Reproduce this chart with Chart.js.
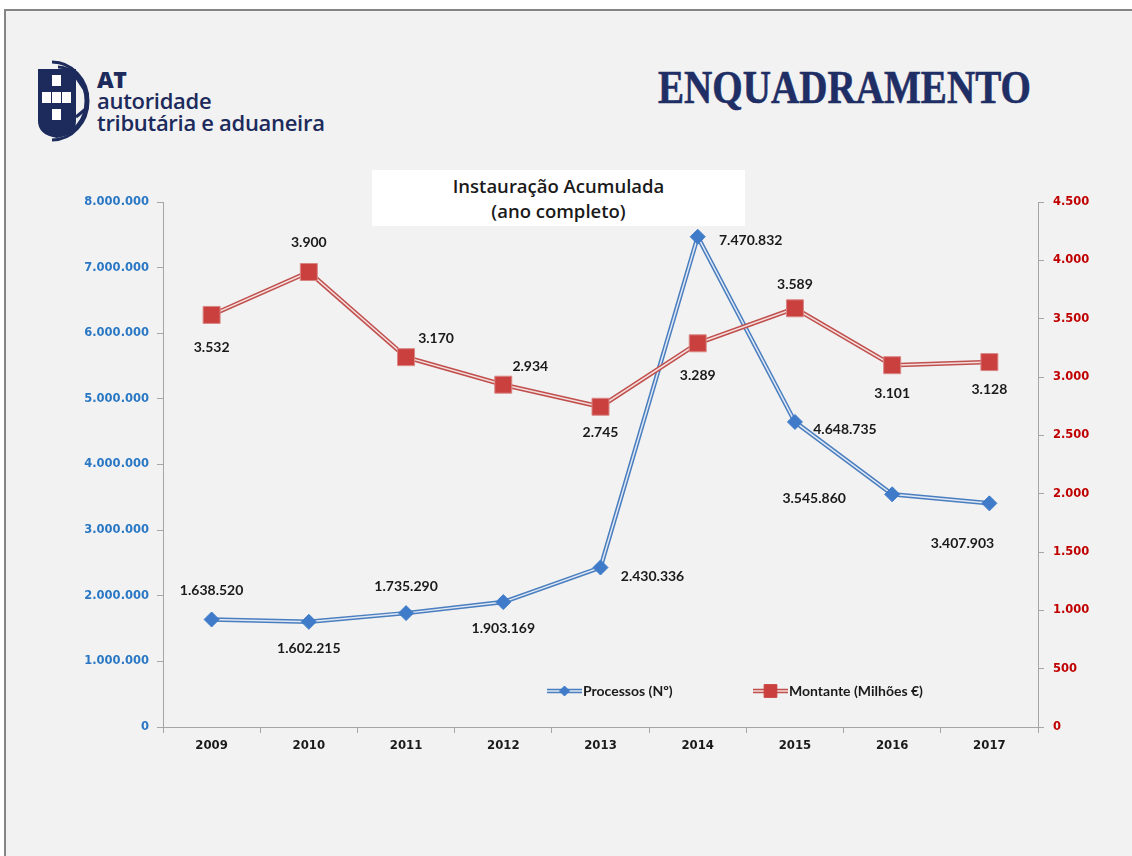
<!DOCTYPE html>
<html>
<head>
<meta charset="utf-8">
<script src="https://cdn.jsdelivr.net/npm/chart.js@4.4.1/dist/chart.umd.min.js"></script>
<style>
html,body{margin:0;padding:0;background:#fff;width:1132px;height:856px;overflow:hidden;}
#slide{position:absolute;left:4px;top:9px;width:1150px;height:870px;background:#f2f2f2;border-left:2px solid #858585;border-top:2px solid #858585;}
#logo{position:absolute;left:30px;top:55px;width:72px;height:92px;}
.lt{position:absolute;left:97px;color:#1c2a5c;font-family:"Open Sans",sans-serif;white-space:nowrap;line-height:1;}
#at{top:68px;font-size:23px;font-weight:800;letter-spacing:-0.5px;}
#aut{top:89px;font-size:22px;font-weight:600;letter-spacing:-0.3px;}
#trib{top:111px;font-size:22px;font-weight:600;letter-spacing:-0.3px;}
#bigtitle{position:absolute;left:658px;top:65px;font-family:"Liberation Serif",serif;font-weight:bold;font-size:46px;color:#1f2f66;transform:scaleX(0.85);transform-origin:left top;white-space:nowrap;line-height:1;-webkit-text-stroke:0.6px #1f2f66;}
#tbox{position:absolute;left:372px;top:170px;width:373px;height:56px;background:#fff;}
#tbox div{position:absolute;left:0;width:100%;text-align:center;font-family:"Open Sans",sans-serif;font-weight:600;font-size:18.5px;color:#1a1a1a;line-height:1;}
#c{position:absolute;left:0;top:0;}
</style>
</head>
<body>
<div id="slide"></div>
<svg id="logo" viewBox="0 0 72 92">
  <path d="M8 14 H46 V66 Q46 80 27 83 Q8 80 8 66 Z" fill="#1c2a5c"/>
  <rect x="22" y="20" width="9" height="11" fill="#fff"/>
  <rect x="12" y="37" width="9" height="11" fill="#fff"/>
  <rect x="22" y="37" width="9" height="11" fill="#fff"/>
  <rect x="32" y="37" width="9" height="11" fill="#fff"/>
  <rect x="22" y="54" width="9" height="11" fill="#fff"/>
  <path d="M22 7 A36 39 0 0 1 22 85" fill="none" stroke="#1c2a5c" stroke-width="3"/>
  <path d="M28 12 A28 34 0 0 1 28 80" fill="none" stroke="#1c2a5c" stroke-width="3"/>
  <path d="M46 22 L58 40" stroke="#1c2a5c" stroke-width="3"/>
  <path d="M46 62 L58 52" stroke="#1c2a5c" stroke-width="3"/>
</svg>
<div class="lt" id="at">AT</div>
<div class="lt" id="aut">autoridade</div>
<div class="lt" id="trib">tributária e aduaneira</div>
<div id="bigtitle">ENQUADRAMENTO</div>
<div id="tbox"><div style="top:7px">Instauração Acumulada</div><div style="top:32px">(ano completo)</div></div>
<canvas id="c" width="1132" height="856"></canvas>
<script>
const years = ['2009','2010','2011','2012','2013','2014','2015','2016','2017'];
const processos = [1638520, 1602215, 1735290, 1903169, 2430336, 7470832, 4648735, 3545860, 3407903];
const montante = [3532, 3900, 3170, 2934, 2745, 3289, 3589, 3101, 3128];
const processosLabel = 'Processos (Nº)';
const montanteLabel = 'Montante (Milhões €)';
const leftTicks = {min: 0, max: 8000000, step: 1000000};
const rightTicks = {min: 0, max: 4500, step: 500};

const BLUE = '#4a7ebf', BLUE_IN = '#dfe8f4', BLUE_PT = '#3f7bc8';
const RED = '#c0504d', RED_IN = '#f4dedd', RED_PT = '#c9403f';
const AXIS = '#a6a6a6';

const fmt = v => String(Math.round(v)).replace(/\B(?=(\d{3})+(?!\d))/g, '.');

const labelOffsets = {
  4: [[0,-29],[0,27],[0,-27],[0,26],[52,9],[53,4],[50,8],[-78,4],[-27,40]],
  5: [[0,33],[0,-30],[30,-19],[27,-18],[0,26],[0,32],[0,-24],[0,28],[0,27]]
};

const dataLabels = {
  id: 'dataLabels',
  afterDatasetsDraw(chart) {
    const ctx = chart.ctx;
    ctx.save();
    ctx.font = 'bold 14px Lato, sans-serif';
    ctx.fillStyle = '#1a1a1a';
    ctx.textAlign = 'center';
    ctx.textBaseline = 'middle';
    Object.keys(labelOffsets).forEach(k => {
      const idx = +k;
      const meta = chart.getDatasetMeta(idx);
      const vals = chart.data.datasets[idx].data;
      meta.data.forEach((pt, i) => {
        const o = labelOffsets[k][i];
        ctx.fillText(fmt(vals[i]), pt.x + o[0], pt.y + o[1]);
      });
    });
    ctx.restore();
  }
};

const customLegend = {
  id: 'customLegend',
  afterDraw(chart) {
    const ctx = chart.ctx;
    const a = chart.chartArea;
    const y = a.bottom - 36;
    const items = [
      {x: a.left + 384, label: processosLabel, c: BLUE, ci: BLUE_IN, pt: 'rectRot', pc: BLUE_PT, r: 5},
      {x: a.left + 590, label: montanteLabel, c: RED, ci: RED_IN, pt: 'rect', pc: RED_PT, r: 9}
    ];
    ctx.save();
    items.forEach(it => {
      ctx.lineCap = 'butt';
      ctx.strokeStyle = it.c; ctx.lineWidth = 4.5;
      ctx.beginPath(); ctx.moveTo(it.x, y); ctx.lineTo(it.x + 35, y); ctx.stroke();
      ctx.strokeStyle = it.ci; ctx.lineWidth = 1.5;
      ctx.beginPath(); ctx.moveTo(it.x, y); ctx.lineTo(it.x + 35, y); ctx.stroke();
      ctx.fillStyle = it.pc; ctx.strokeStyle = it.pc; ctx.lineWidth = 1;
      Chart.helpers.drawPoint(ctx, {pointStyle: it.pt, radius: it.r, borderWidth: 1}, it.x + 17.5, y);
      ctx.fillStyle = '#1a1a1a';
      ctx.font = 'bold 14px Lato, sans-serif';
      ctx.textAlign = 'left'; ctx.textBaseline = 'middle';
      ctx.fillText(it.label, it.x + 36, y);
    });
    ctx.restore();
  }
};

new Chart(document.getElementById('c'), {
  type: 'line',
  data: {
    labels: years,
    datasets: [
      {data: processos, yAxisID: 'y', borderColor: BLUE, borderWidth: 4.5, pointRadius: 0, order: 6, tension: 0},
      {data: processos, yAxisID: 'y', borderColor: BLUE_IN, borderWidth: 1.5, pointRadius: 0, order: 5, tension: 0},
      {data: montante, yAxisID: 'y1', borderColor: RED, borderWidth: 4.5, pointRadius: 0, order: 4, tension: 0},
      {data: montante, yAxisID: 'y1', borderColor: RED_IN, borderWidth: 1.5, pointRadius: 0, order: 3, tension: 0},
      {label: processosLabel, data: processos, yAxisID: 'y', showLine: false, pointStyle: 'rectRot', pointRadius: 7.5,
       pointBackgroundColor: BLUE_PT, pointBorderColor: BLUE_PT, pointBorderWidth: 1, order: 2},
      {label: montanteLabel, data: montante, yAxisID: 'y1', showLine: false, pointStyle: 'rect', pointRadius: 12,
       pointBackgroundColor: RED_PT, pointBorderColor: '#d98683', pointBorderWidth: 1, order: 1}
    ]
  },
  options: {
    responsive: false,
    animation: false,
    events: [],
    layout: {padding: {top: 202, left: 0, right: 0, bottom: 0}},
    plugins: {legend: {display: false}, tooltip: {enabled: false}, title: {display: false}},
    scales: {
      x: {
        type: 'category', offset: true,
        grid: {display: true, drawOnChartArea: false, drawTicks: true, tickLength: 6, offset: true, color: AXIS},
        border: {display: true, color: AXIS, width: 1},
        ticks: {padding: 5, color: '#1a1a1a', font: {family: '"Liberation Sans Narrow", "DejaVu Sans Condensed", sans-serif', weight: 'bold', size: 13}},
        afterFit(s) { s.height = 129; }
      },
      y: {
        position: 'left', min: leftTicks.min, max: leftTicks.max,
        grid: {display: true, drawOnChartArea: false, drawTicks: true, tickLength: 6, color: AXIS},
        border: {display: true, color: AXIS, width: 1},
        ticks: {stepSize: leftTicks.step, padding: 8, color: '#2a78c4', callback: v => fmt(v),
                font: {family: '"DejaVu Sans", sans-serif', weight: 'bold', size: 11.5}},
        afterFit(s) { s.width = 163; }
      },
      y1: {
        position: 'right', min: rightTicks.min, max: rightTicks.max,
        grid: {display: true, drawOnChartArea: false, drawTicks: true, tickLength: 6, color: AXIS},
        border: {display: true, color: AXIS, width: 1},
        ticks: {stepSize: rightTicks.step, padding: 9, color: '#c00000', callback: v => fmt(v),
                font: {family: '"DejaVu Sans", sans-serif', weight: 'bold', size: 11.5}},
        afterFit(s) { s.width = 94; }
      }
    }
  },
  plugins: [dataLabels, customLegend]
});
</script>
</body>
</html>
